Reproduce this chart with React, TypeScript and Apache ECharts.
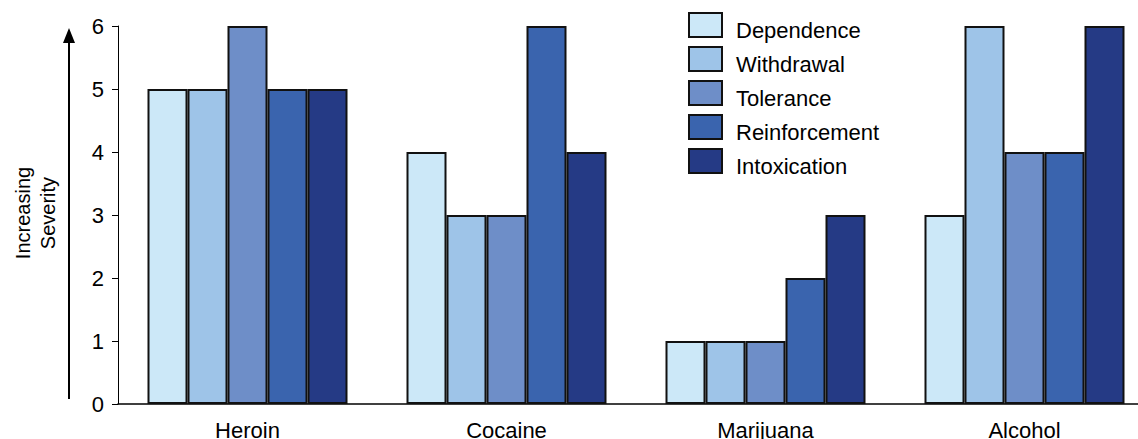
import React, { useEffect, useRef } from "react";
import * as echarts from "echarts";

const categories = ["Heroin", "Cocaine", "Marijuana", "Alcohol"];
const seriesNames = ["Dependence", "Withdrawal", "Tolerance", "Reinforcement", "Intoxication"];
const dependence = [5, 4, 1, 3];
const withdrawal = [5, 3, 1, 6];
const tolerance = [6, 3, 1, 4];
const reinforcement = [5, 6, 2, 4];
const intoxication = [5, 4, 3, 6];
const seriesValues = [dependence, withdrawal, tolerance, reinforcement, intoxication];
const colors = ["#CCE8F8", "#9EC4E8", "#6E8EC8", "#3A64AE", "#253A85"];
const yTicks = [0, 1, 2, 3, 4, 5, 6];
const yAxisName = ["Increasing", "Severity"];

const FONT = "'Liberation Sans', Arial, sans-serif";

export default function App() {
  const ref = useRef<HTMLDivElement>(null);
  useEffect(() => {
    if (!ref.current) return;
    const chart = echarts.init(ref.current, undefined, { renderer: "svg" });
    chart.setOption({
      animation: false,
      backgroundColor: "#ffffff",
      textStyle: { fontFamily: FONT },
      grid: { left: 118, top: 26, bottom: 35, right: -16, containLabel: false, outerBoundsMode: "none" },
      legend: {
        data: seriesNames,
        orient: "vertical",
        left: 688,
        top: 9,
        padding: 0,
        itemWidth: 33,
        itemHeight: 24,
        itemGap: 2,
        icon: "rect",
        formatter: (name: string) => `{t|${name}}`,
        textStyle: {
          color: "#000",
          fontFamily: FONT,
          rich: {
            t: {
              fontSize: 22,
              lineHeight: 22,
              color: "#000",
              fontFamily: FONT,
              padding: [10, 0, 0, 9],
            },
          },
        },
      },
      xAxis: {
        type: "category",
        data: categories,
        axisLine: { lineStyle: { color: "#000", width: 1.5 } },
        axisTick: { show: false },
        axisLabel: { fontSize: 22, color: "#000", margin: 15, fontFamily: FONT },
      },
      yAxis: {
        type: "value",
        min: yTicks[0],
        max: yTicks[yTicks.length - 1],
        interval: 1,
        splitLine: { show: false },
        axisLine: { show: true, lineStyle: { color: "#000", width: 1 } },
        axisTick: { show: true, length: 6, lineStyle: { color: "#000" } },
        axisLabel: { fontSize: 22, color: "#000", margin: 14, fontFamily: FONT },
      },
      series: seriesNames.map((name, i) => ({
        name,
        type: "bar",
        data: seriesValues[i],
        barWidth: 40,
        barGap: "0%",
        itemStyle: { color: colors[i], borderColor: "#111", borderWidth: 2 },
      })),
      graphic: [
        {
          type: "text",
          x: 35,
          y: 213,
          rotation: Math.PI / 2,
          style: {
            text: yAxisName.join("\n"),
            fontSize: 20,
            lineHeight: 25,
            fill: "#000",
            fontFamily: FONT,
            align: "center",
            verticalAlign: "middle",
          },
        },
        {
          type: "line",
          shape: { x1: 69, y1: 399, x2: 69, y2: 38 },
          style: { stroke: "#000", lineWidth: 2 },
        },
        {
          type: "polygon",
          shape: { points: [[69, 28], [63, 43], [75, 43]] },
          style: { fill: "#000" },
        },
      ],
    });
    return () => chart.dispose();
  }, []);
  return (
    <div
      ref={ref}
      style={{ position: "fixed", left: 0, top: 0, width: 1138, height: 439, background: "#fff" }}
    />
  );
}
